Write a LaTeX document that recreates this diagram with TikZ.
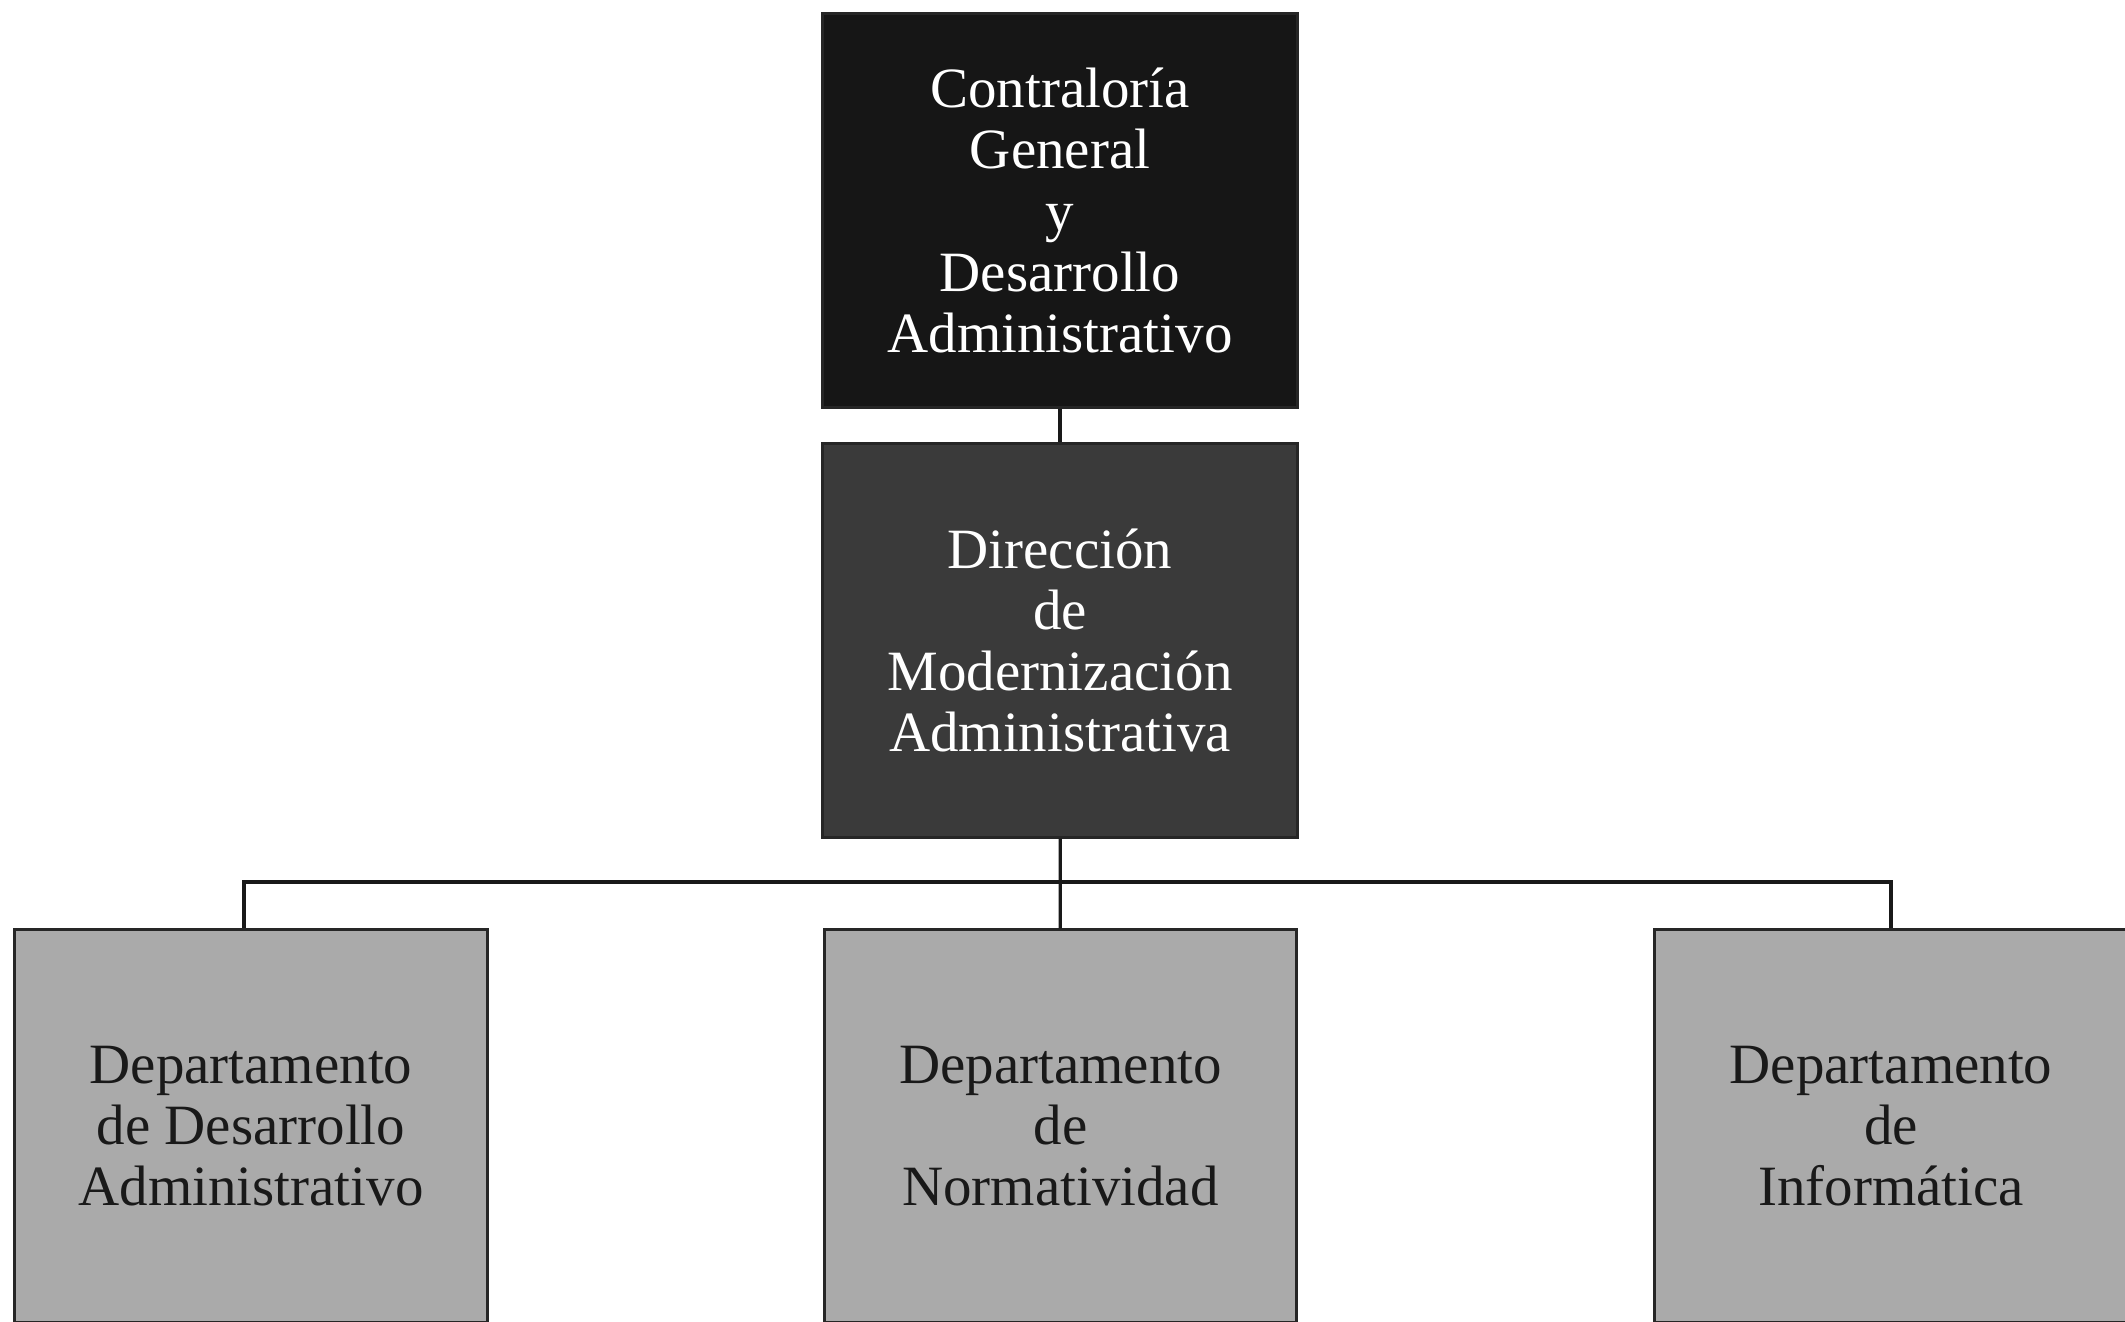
\documentclass[tikz,border=0pt]{standalone}
\usepackage{fontspec}
\setmainfont{Liberation Serif}
\usepackage{tikz}
\usetikzlibrary{positioning}
\definecolor{cgblack}{RGB}{22,22,22}
\definecolor{dmagray}{RGB}{58,58,58}
\definecolor{deptgray}{RGB}{170,170,170}

\begin{document}
\begin{tikzpicture}[x=0.01cm, y=-0.01cm,
    unit/.style={rectangle, draw=black!85, line width=0.8pt, minimum width=4.74cm, minimum height=3.93cm, align=center, font=\fontsize{16.2}{17.4}\selectfont, inner sep=0pt},
    topbox/.style={unit, fill=cgblack, text=white},
    midbox/.style={unit, fill=dmagray, text=white},
    deptbox/.style={unit, fill=deptgray, text=black!90, minimum width=4.72cm, minimum height=3.92cm},
    conn/.style={line width=0.9pt, black!90}]
    \useasboundingbox (0,0) rectangle (2125,1322);

    % Contraloria General
    \node[topbox] (cg) at (1060,210.5) {Contraloría\\General\\y\\Desarrollo\\Administrativo};

    % Direccion de Modernizacion
    \node[midbox] (dma) at (1060,640.5) {Dirección\\de\\Modernización\\Administrativa};

    % Departamentos
    \node[deptbox] (dda) at (251,1126) {Departamento\\de Desarrollo\\Administrativo};
    \node[deptbox] (dn) at (1060.5,1126) {Departamento\\de\\Normatividad};
    \node[deptbox] (di) at (1891,1126) {Departamento\\de\\Informática};

    % Lineas
    \coordinate (bar) at (1060,882);
    \draw[conn] (cg) -- (dma);
    \draw[conn] (dma) -- (dn);
    \draw[conn] ([xshift=-0.07cm]dda.north) |- (bar) -| (di.north);
\end{tikzpicture}
\end{document}
